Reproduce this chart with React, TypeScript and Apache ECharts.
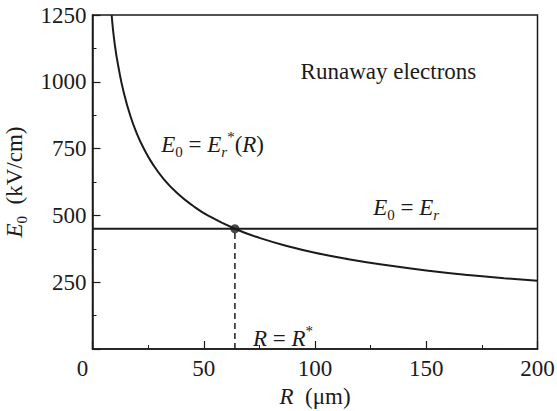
import React, { useEffect, useRef } from "react";
import * as echarts from "echarts";

const xTicks = [0, 50, 100, 150, 200];
const yTicks = [0, 250, 500, 750, 1000, 1250];
const curveR = [8.6, 10, 12, 14, 17, 20, 23, 27, 32, 38, 45, 52, 64, 75, 90, 100, 115, 130, 150, 170, 185, 200];
const curveE = [1250, 1140, 1040, 962, 873, 805, 751, 693, 636, 584, 537, 499, 450, 416, 380, 360, 336, 316, 294, 276, 265, 255];
const Er = 450;
const Rstar = 64;

const notes = [
  { x: 133, y: 1038, text: "{m|Runaway electrons}" },
  { x: 54, y: 765, text: "{i|E}{s|0}{m| = }{i|E}{si|r}{p|*}{m|(}{i|R}{m|)}" },
  { x: 141, y: 528, text: "{i|E}{s|0}{m| = }{i|E}{si|r}" },
  { x: 85.6, y: 41, text: "{i|R}{m| = }{i|R}{p|*}" },
];

const FONT = "Liberation Serif";
const INK = "#1b1b1b";
const CSS = `.chart-box text, .chart-box tspan { font-family: "Liberation Serif", "Times New Roman", serif !important; }`;

export default function App() {
  const ref = useRef<HTMLDivElement>(null);
  useEffect(() => {
    if (!ref.current) return;
    const chart = echarts.init(ref.current, undefined, { renderer: "svg" });
    const main = { fontFamily: FONT, fontSize: 23, color: INK, lineHeight: 30 };
    const it = { ...main, fontStyle: "italic" };
    const sub = { fontFamily: FONT, fontSize: 15, color: INK, lineHeight: 15, verticalAlign: "bottom" };
    const subIt = { ...sub, fontStyle: "italic" };
    const sup = { fontFamily: FONT, fontSize: 15, color: INK, lineHeight: 15, verticalAlign: "top" };
    const rich = { m: main, i: it, s: sub, si: subIt, p: sup };

    chart.setOption({
      animation: false,
      backgroundColor: "#ffffff",
      textStyle: { fontFamily: FONT },
      grid: {
        left: 92.5, right: 19.5, top: 15, bottom: 62,
        containLabel: false, outerBoundsMode: "none",
        show: true, borderColor: INK, borderWidth: 1.5,
      },
      xAxis: {
        type: "value",
        min: xTicks[0],
        max: xTicks[xTicks.length - 1],
        interval: 50,
        name: "{i|R}{m|  (μm)}",
        nameLocation: "middle",
        nameGap: 30,
        nameTextStyle: { rich, fontFamily: FONT, fontSize: 23 },
        axisLine: { show: true, lineStyle: { color: INK, width: 1.5 } },
        axisTick: { show: true, inside: true, length: 8, lineStyle: { color: INK, width: 1.2 } },
        minorTick: { show: true, splitNumber: 2, length: 4, lineStyle: { color: INK, width: 1 } },
        splitLine: { show: false },
        axisLabel: {
          margin: 8,
          fontFamily: FONT,
          fontSize: 23,
          color: INK,
          formatter: (v: number) => (v === 0 ? "{z|0}" : String(v)),
          rich: { z: { fontFamily: FONT, fontSize: 23, color: INK, padding: [0, 20, 0, 0] } },
        },
      },
      yAxis: {
        type: "value",
        min: yTicks[0],
        max: yTicks[yTicks.length - 1],
        interval: 250,
        name: "{i|E}{s|0}{m|  (kV/cm)}",
        nameLocation: "middle",
        nameGap: 56,
        nameRotate: 90,
        nameTextStyle: { rich, fontFamily: FONT, fontSize: 23 },
        axisLine: { show: true, lineStyle: { color: INK, width: 1.5 } },
        axisTick: { show: true, inside: true, length: 8, lineStyle: { color: INK, width: 1.2 } },
        minorTick: { show: true, splitNumber: 2, length: 4, lineStyle: { color: INK, width: 1 } },
        splitLine: { show: false },
        axisLabel: {
          margin: 6,
          fontFamily: FONT,
          fontSize: 23,
          color: INK,
          formatter: (v: number) => (v === 0 ? "" : String(v)),
        },
      },
      series: [
        { type: "line", data: curveR.map((r, k) => [r, curveE[k]]), smooth: 0.5, showSymbol: false, lineStyle: { color: INK, width: 2 }, z: 3 },
        { type: "line", data: [[xTicks[0], Er], [xTicks[xTicks.length - 1], Er]], showSymbol: false, lineStyle: { color: INK, width: 2 }, z: 3 },
        { type: "line", data: [[Rstar, 0], [Rstar, Er]], showSymbol: false, lineStyle: { color: INK, width: 1.5, type: [6, 4] }, z: 2 },
        { type: "scatter", data: [[Rstar, Er]], symbolSize: 9, itemStyle: { color: INK }, z: 5 },
      ],
    });
    const graphic = notes.map((n) => {
      const [px, py] = chart.convertToPixel({ gridIndex: 0 }, [n.x, n.y]) as number[];
      return {
        type: "text",
        x: px,
        y: py,
        z: 10,
        style: { text: n.text, rich, fontFamily: FONT, fontSize: 23, fill: INK, align: "center", verticalAlign: "middle" },
      };
    });
    chart.setOption({ graphic });
    return () => chart.dispose();
  }, []);
  return (
    <>
      <style>{CSS}</style>
      <div ref={ref} className="chart-box" style={{ position: "absolute", left: 0, top: 0, width: 557, height: 411 }} />
    </>
  );
}
